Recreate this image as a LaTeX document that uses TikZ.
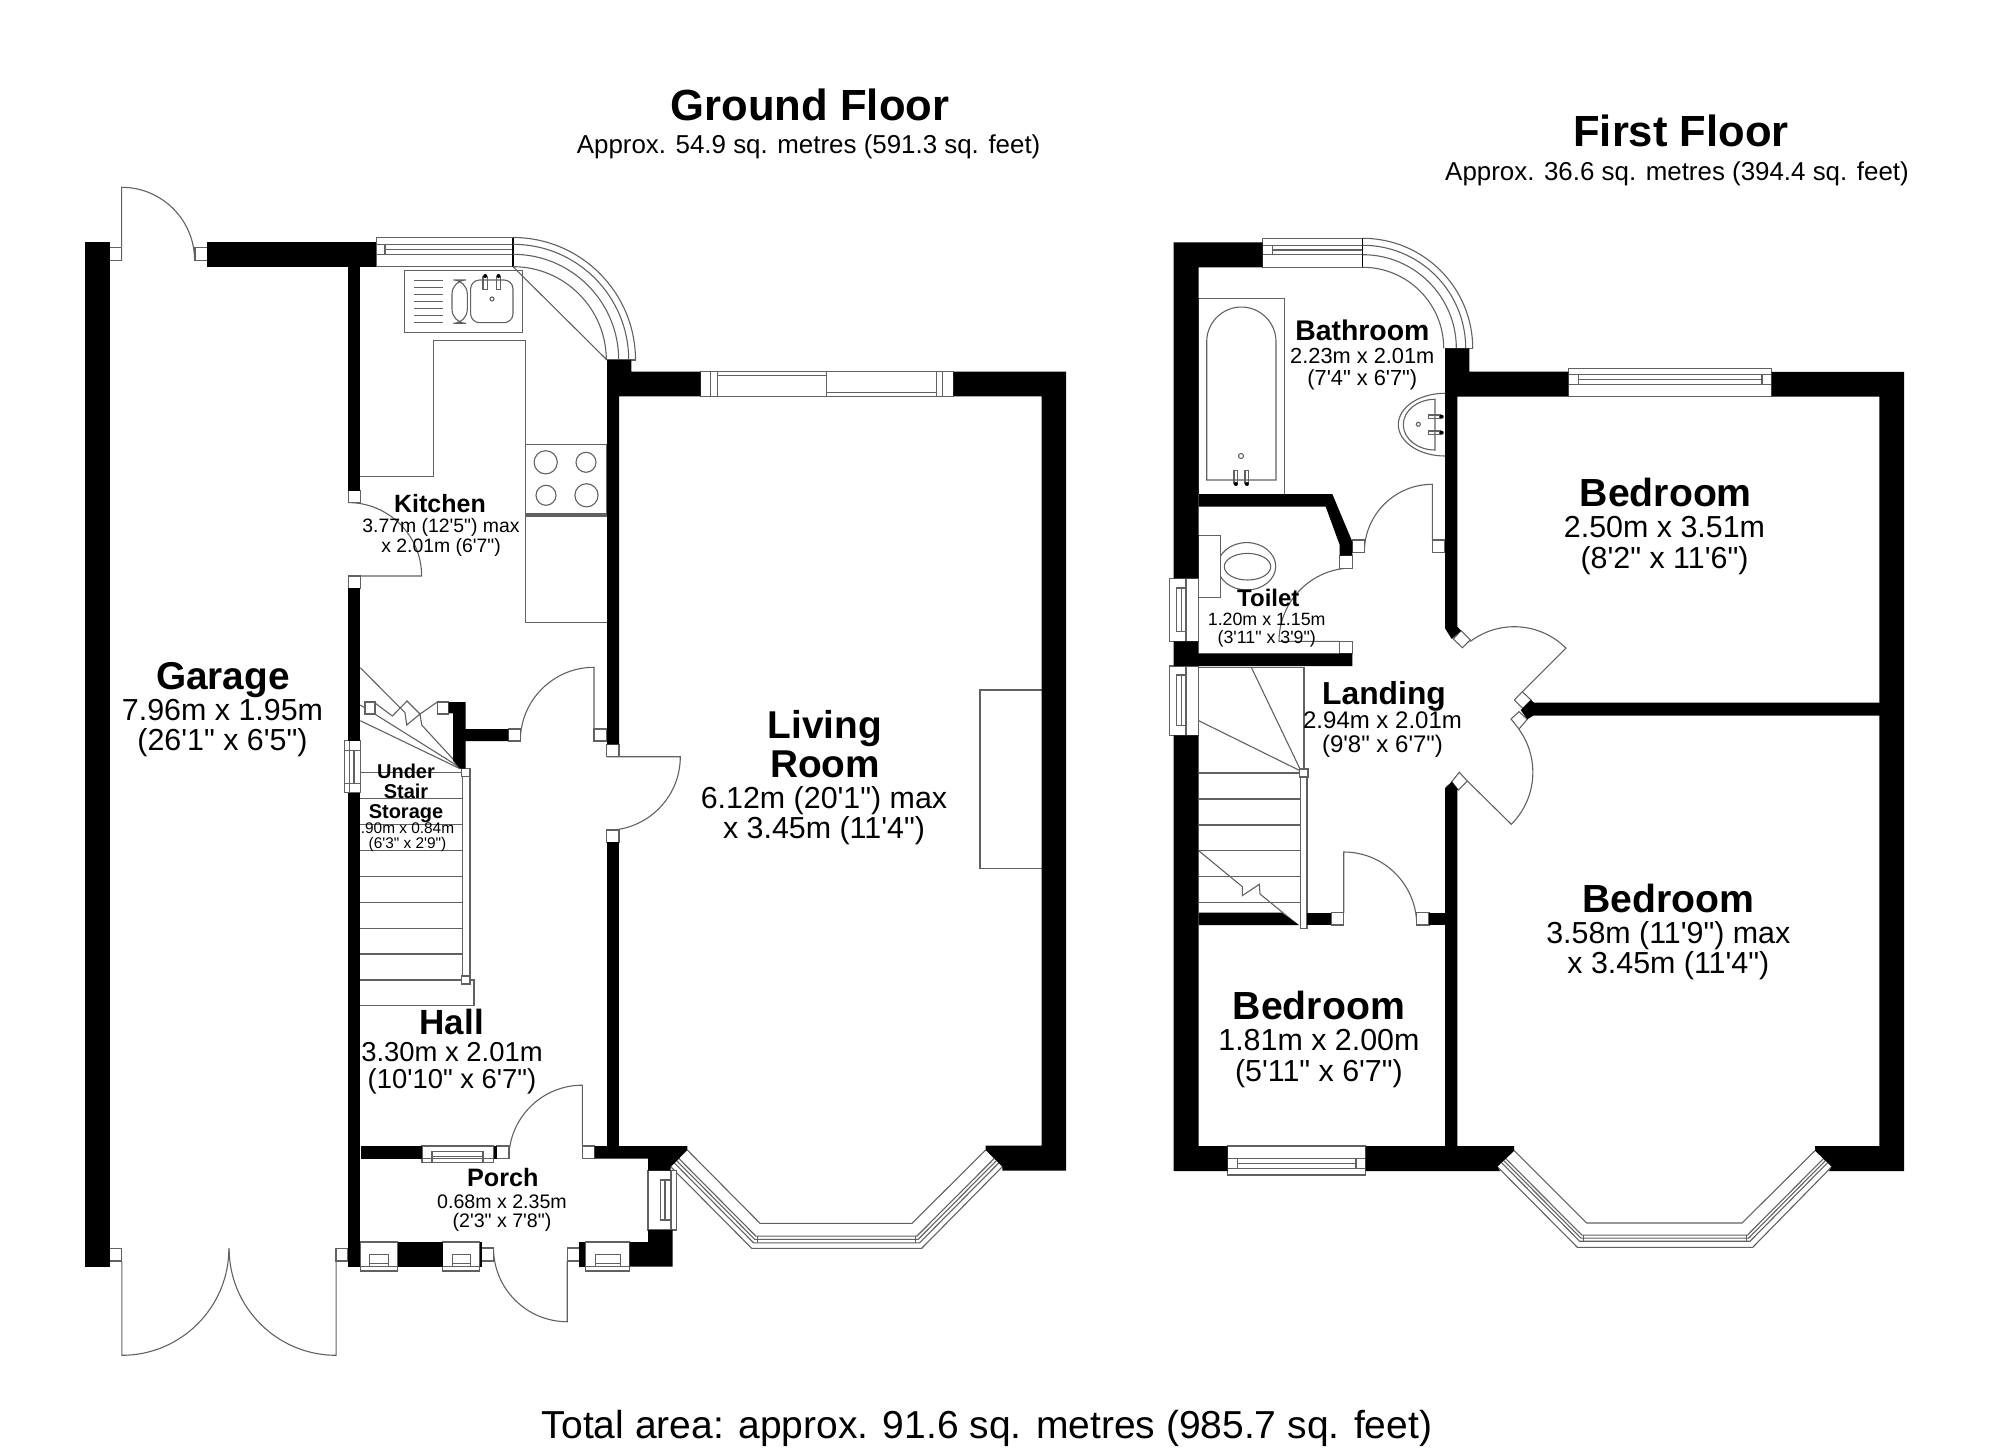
\documentclass[tikz,border=0pt]{standalone}
\usepackage{fontspec}
\newfontfamily\planfont{Liberation Sans}
\tikzset{
	wall/.style = {fill=black, draw=none},
	fine/.style = {draw=black!62, line width=.55pt},
	jamb/.style = {fine, fill=white},
	floortitle/.style = {font=\planfont\fontsize{21.8}{21.8}\selectfont\bfseries},
	roomtitle/.style = {align=center, font=\planfont\fontsize{#1}{#1}\selectfont\bfseries},
	roomdim/.style = {align=center, font=\planfont\fontsize{#1}{#1}\selectfont}
}
\begin{document}
\begin{tikzpicture}[x=.5pt, y=.5pt, yscale=-1, inner sep=0pt]
	\useasboundingbox (0,0) rectangle (2000,1454);

	\draw[fine] (121.6,260.3) -- (121.6,187.3) arc[start angle=-90, end angle=0, radius=73];
	\draw[fine] (348.2,576) -- (421.6,576) arc[start angle=0, end angle=-90, radius=73.4];
	\draw[fine] (594,729) -- (594,667.3) arc[start angle=-90, end angle=-180, radius=73.7];
	\draw[fine] (606.7,756.7) -- (680.3,756.7) arc[start angle=0, end angle=90, radius=73.6];
	\draw[fine] (582.3,1146) -- (582.3,1085.2) arc[start angle=-90, end angle=-180, radius=73.5];
	\draw[fine] (121.9,1261) -- (121.9,1355.3) arc[start angle=90, end angle=0, radius=107];
	\draw[fine] (336.1,1261) -- (336.1,1355.3) arc[start angle=90, end angle=180, radius=107];
	\draw[fine] (567.2,1261) -- (567.2,1321.7) arc[start angle=90, end angle=180, radius=73.7];

	\draw[fine] (360.4,476.7) -- (433.5,476.7) -- (433.5,340.3) -- (525.3,340.3) -- (525.3,622.7) -- (607,622.7);
	\draw[fine] (525.3,444.7) rectangle (607,514) (525.3,516) -- (607,516);
	\foreach \cx/\cy/\rad in {545.7/462.3/11.6, 586/462.3/10, 546/495.3/10, 586.5/495.3/11.6}
		\draw[fine] (\cx,\cy) circle[radius=\rad];
	\draw[fine] (404.5,270.7) rectangle (522.5,332.3);
	\foreach \yy in {280.3,287.3,...,322.3}
		\draw[fine] (414,\yy) -- (443,\yy);
	\draw[fine, rounded corners=7pt] (452,280) rectangle (467.3,323.3);
	\draw[fine, rounded corners=4.5pt] (470.6,280) rectangle (513,322.7);
	\foreach \tapx in {483,496.3} {
		\draw[fine] (\tapx,276.7) rectangle (\tapx+4.5,289.3);
		\fill (\tapx+2.2,276) circle[radius=2];
	}
	\draw[fine] (492,299) circle[radius=2];
	\draw[fine] (513,266.7) -- (607,360);

	\draw[jamb] (376.3,237.7) rectangle (513,266.7);
	\draw[fine] (376.3,244.3) -- (513,244.3) (376.3,254.3) -- (513,254.3) (385,249.3) -- (513,249.3) (385,244.3) -- (385,254.3);
	\draw[draw=black, line width=.7pt] (513,237.7) -- (513,266.7);
	\foreach \rad in {122.5,115.7,105.7,93.3}
		\draw[fine] (513,360-\rad) arc[start angle=-90, end angle=0, radius=\rad];
	\draw[fine] (607,360) -- (635.5,360);

	\draw[jamb] (700.7,371.7) rectangle (953.3,396.4);
	\foreach \xx in {710.7,717.3,826.7,936.7,942.7}
		\draw[fine] (\xx,371.7) -- (\xx,396.4);
	\draw[fine] (717.3,375.7) -- (826.7,375.7) (826.7,392.3) -- (936.7,392.3);
	\draw[fine] (1041.7,690) -- (980,690) -- (980,868.6) -- (1041.7,868.6);

	\foreach \f in {0,.51,.64,.78,1}
		\draw[fine] ({687.3-16.6*\f},{1150+16.7*\f}) -- ({760-8.3*\f},{1223.3+25*\f}) -- ({912+9.7*\f},{1223.3+25*\f}) -- ({985.7+16.6*\f},{1150+16.7*\f});
	\draw[fine] (757.3,1236) -- (757.3,1242.7) (915.3,1236) -- (915.3,1242.7);

	\draw[fine] (360.3,705) -- (462,768.7) (360.3,720.7) -- (460,768.7);
	\draw[fine] (360.3,667.7) -- (405,712.7) -- (406.7,725) -- (420,714) -- (421.7,725) -- (463,770);
	\draw[fine] (375,703) -- (392.3,716) -- (407,701) -- (420,714) -- (437.3,702);
	\foreach \yy in {772.7,798.7,824.3,850.3,876.3,902.3,928.3,954}
		\draw[fine] (360.3,\yy) -- (462.7,\yy);
	\draw[fine] (360.3,980) -- (474,980) -- (474,1005.7) -- (360.3,1005.7);
	\draw[jamb] (462.7,772.7) rectangle (470,980);
	\draw[jamb] (461.7,768.7) rectangle (470,776.7);
	\draw[jamb] (461.7,976) rectangle (470,984);

	\foreach \xa/\ya/\xb/\yb in {109.5/247.7/121.6/260.3, 195/247.7/207.3/260.3, 348.2/490.7/360.4/502.7, 348.2/576/360.4/588.3, 365/702/375/714, 437.3/702/448.7/714, 508.3/729/520.3/741, 594/729/606.7/741, 606.7/744.3/619/756.7, 606.7/830/619/842.3, 496.5/1146/509/1158.7, 582.3/1146/594.5/1158.7, 109.7/1248.3/121.9/1261, 336/1248.3/347.9/1261, 481.7/1248/493.5/1261, 567.2/1248/579.4/1261}
		\draw[jamb] (\xa,\ya) rectangle (\xb,\yb);

	\foreach \xa/\xb/\xc/\xd in {360.5/397.5/369.8/388.3, 442.6/479.6/452.3/470.4, 585.3/629.5/595.3/620.6} {
		\draw[jamb] (\xa,1242) rectangle (\xb,1271);
		\draw[fine] (\xa,1266.7) -- (\xb,1266.7) (\xc,1254.7) rectangle (\xd,1263.7) (\xc,1263.7) -- (\xc,1266.7) (\xd,1263.7) -- (\xd,1266.7);
	}
	\draw[jamb] (422,1146) rectangle (493.5,1162.3);
	\draw[fine] (422,1158.7) -- (493.5,1158.7) (432,1151.7) rectangle (483,1156.7) (432,1156.7) -- (432,1162.3) (483,1156.7) -- (483,1162.3);
	\draw[jamb] (648,1170.7) rectangle (676.7,1230);
	\draw[fine] (671,1170.7) -- (671,1230) (660.3,1180) rectangle (670.3,1220) (665,1180) -- (665,1220);
	\draw[jamb] (344.3,740.7) rectangle (360.3,792.7);
	\draw[fine] (349.3,740.7) -- (349.3,792.7) (344.3,750.7) -- (360.3,750.7) (344.3,783.3) -- (360.3,783.3) (354,750.7) -- (354,783.3);

	\path[wall] (84.5,242) rectangle (109.5,1267);
	\path[wall] (207.3,241.7) rectangle (376.3,266.7);
	\path[wall] (348.2,266.7) rectangle (360.4,490.7);
	\path[wall] (348,588.3) rectangle (360.4,740.7);
	\path[wall] (348,792.7) rectangle (360.4,1266.7);
	\path[wall] (607,360) -- (631.4,360) -- (631.4,371.7) -- (700.7,371.7) -- (700.7,396.5) -- (619.2,396.5) -- (619.2,744.3) -- (607,744.3) -- cycle;
	\path[wall] (953.3,371.7) -- (1066,371.7) -- (1066,1170.7) -- (1002.3,1170.7) -- (1002.3,1166.7) -- (985.7,1150) -- (985.7,1145.7) -- (1041.7,1145.7) -- (1041.7,396.5) -- (953.3,396.5) -- cycle;
	\path[wall] (607,842.3) rectangle (619,1146);
	\path[wall] (448.7,702) -- (465.7,702) -- (465.7,729) -- (508.3,729) -- (508.3,741) -- (465.7,741) -- (465.7,768.7) -- (460,768.7) -- (453,760.7) -- (453,713.3) -- (448.7,713.3) -- cycle;
	\path[wall] (360.5,1146) rectangle (422,1158.7);
	\path[wall] (493.5,1146) rectangle (496.5,1158.7);
	\path[wall] (594.5,1146) -- (687.3,1146) -- (687.3,1150) -- (670.7,1167) -- (670.7,1170.7) -- (648,1170.7) -- (648,1158.7) -- (594.5,1158.7) -- cycle;
	\path[wall] (629.5,1242) -- (648,1242) -- (648,1230) -- (672.7,1230) -- (672.7,1266.7) -- (629.5,1266.7) -- cycle;
	\path[wall] (397.5,1242) rectangle (442.6,1266.7);
	\path[wall] (479.6,1242) rectangle (481.7,1266.7);
	\path[wall] (579.4,1242) rectangle (585.3,1266.7);

	\draw[fine] (1198.7,494) -- (1198.7,298.3) -- (1284.3,298.3) -- (1284.3,494);
	\draw[fine] (1206.7,341.7) arc[start angle=180, end angle=360, radius=34.65] -- (1276,480) -- (1206.7,480) -- cycle;
	\draw[fine] (1241,456) circle[radius=2.5];
	\foreach \tapx in {1234,1245} {
		\draw[fine] (\tapx,470.7) rectangle (\tapx+3.7,483.3);
		\fill (\tapx+1.9,484) circle[radius=2];
	}
	\draw[fine] (1445,393.3) arc[start angle=-90, end angle=-270, x radius=46.7, y radius=31.35];
	\draw[fine] (1435,399.3) arc[start angle=-90, end angle=-270, x radius=31.7, y radius=25.35] -- cycle;
	\draw[fine] (1418.3,424.3) circle[radius=2];
	\foreach \tapy in {415,431} {
		\draw[fine] (1428.7,\tapy) rectangle (1440,\tapy+3.3);
		\fill (1441.7,\tapy+1.7) circle[radius=2];
	}
	\draw[fine] (1246.7,566.3) ellipse[x radius=29, y radius=23.7];
	\draw[fine] (1247.5,566.7) ellipse[x radius=23.2, y radius=13.3];
	\draw[jamb] (1198.7,535.7) rectangle (1220.7,597.3);

	\draw[jamb] (1262.7,238.3) rectangle (1362.7,267.3);
	\draw[fine] (1262.7,245.3) -- (1362.7,245.3) (1262.7,254.7) -- (1362.7,254.7) (1272.3,250) -- (1362.7,250) (1272.3,245.3) -- (1272.3,254.7);
	\draw[draw=black, line width=.7pt] (1362.7,238.3) -- (1362.7,267.3);
	\foreach \rad in {110,103,93.6,81}
		\draw[fine] (1362.7,348.3-\rad) arc[start angle=-90, end angle=0, radius=\rad];
	\draw[fine] (1445,348.3) -- (1473.3,348.3);

	\draw[fine] (1432.3,540) -- (1432.3,484.3) arc[start angle=-90, end angle=-180, radius=68];
	\draw[fine] (1339.7,641.3) -- (1279,641.3) arc[start angle=180, end angle=270, radius=73.3];
	\draw[fine] (1522.3,691.7) -- (1565.9,648.1) arc[start angle=-45, end angle=-127, radius=73];
	\draw[fine] (1467.3,781) -- (1511.3,824.3) arc[start angle=45, end angle=-36, radius=73.5];
	\draw[fine] (1343.7,912.7) -- (1343.7,852) arc[start angle=-90, end angle=0, radius=73];

	\foreach \xa/\ya/\xb/\yb in {1339.7/641.3/1352.3/653.3, 1339.7/555.7/1352.3/568.3, 1352.3/540/1364.7/552.3, 1432.3/540/1445/552.3, 1331.3/912.7/1343.7/925, 1416.7/912.7/1429/925}
		\draw[jamb] (\xa,\ya) rectangle (\xb,\yb);
	\draw[jamb] (1461,630.7) -- (1470.3,640) -- (1462.3,647.7) -- (1453.3,639) -- cycle;
	\draw[jamb] (1514.3,700) -- (1522.3,691.7) -- (1531,700) -- (1522.7,708.3) -- cycle;
	\draw[jamb] (1511,719) -- (1519,711.7) -- (1527.3,719.3) -- (1519,729) -- cycle;
	\draw[jamb] (1451.7,781.7) -- (1459.3,772.3) -- (1467.3,781) -- (1458.3,790) -- cycle;

	\draw[fine] (1251.3,667.3) -- (1300,769) (1198.7,720.7) -- (1300,770.7);
	\draw[fine] (1304,667.3) -- (1304,769) (1198.7,667.3) -- (1304,667.3);
	\foreach \yy in {773,799,825,850.7,876.7,902.7}
		\draw[fine] (1198.7,\yy) -- (1300.3,\yy);
	\draw[fine] (1198.7,850.7) -- (1242.3,886.7) -- (1242.3,895.7) -- (1259.3,884.3) -- (1260,894) -- (1296.7,924);
	\draw[jamb] (1300.3,773) rectangle (1307,928.3);
	\draw[jamb] (1299.7,769) rectangle (1308,777);

	\foreach \ya/\yb/\yc/\yd in {578.3/641.3/588/631.7, 666/735.3/675/725.7} {
		\draw[jamb] (1169.7,\ya) rectangle (1198.7,\yb);
		\draw[fine] (1186,\ya) -- (1186,\yb) (1176.7,\yc) rectangle (1186,\yd) (1181.3,\yc) -- (1181.3,\yd);
	}
	\draw[jamb] (1568.3,368.3) rectangle (1771.7,396.7);
	\draw[fine] (1568.3,374.3) -- (1771.7,374.3) (1568.3,384.3) -- (1771.7,384.3) (1578.3,379.3) -- (1762,379.3) (1578.3,374.3) -- (1578.3,384.3) (1762,374.3) -- (1762,384.3);
	\draw[jamb] (1227.7,1146) rectangle (1365.7,1175);
	\draw[fine] (1227.7,1158.3) -- (1365.7,1158.3) (1227.7,1168.3) -- (1365.7,1168.3) (1237.3,1163.3) -- (1356,1163.3) (1237.3,1158.3) -- (1237.3,1168.3) (1356,1158.3) -- (1356,1168.3);

	\foreach \f in {0,.5,.62,.75,1}
		\draw[fine] ({1514.3-17*\f},{1150.7+16*\f}) -- ({1586.7-9.4*\f},{1223+24.3*\f}) -- ({1742+10.7*\f},{1223+24.3*\f}) -- ({1815+16.7*\f},{1150.7+16*\f});
	\draw[fine] (1583.3,1235.3) -- (1583.3,1241.3) (1746.7,1235.3) -- (1746.7,1241.3);

	\path[wall] (1173.7,242.3) -- (1262.7,242.3) -- (1262.7,267.3) -- (1198.7,267.3) -- (1198.7,578.3) -- (1173.7,578.3) -- cycle;
	\path[wall] (1173.7,641.3) -- (1198.7,641.3) -- (1198.7,653.3) -- (1352.3,653.3) -- (1352.3,666) -- (1173.7,666) -- cycle;
	\path[wall] (1198.7,494) -- (1332.3,494) -- (1352.3,541.7) -- (1352.3,555.7) -- (1339.7,555.7) -- (1339.7,545) -- (1325.7,506.7) -- (1198.7,506.7) -- cycle;
	\path[wall] (1173.7,735.3) -- (1198.7,735.3) -- (1198.7,1146) -- (1227.7,1146) -- (1227.7,1171) -- (1173.7,1171) -- cycle;
	\path[wall] (1198.7,912.7) -- (1281.7,912.7) -- (1299,925) -- (1198.7,925) -- cycle;
	\path[wall] (1307,912.7) rectangle (1331.3,925);
	\path[wall] (1429,912.7) rectangle (1445,925);
	\path[wall] (1445,788) -- (1451.7,781.7) -- (1458.3,790) -- (1457.3,789) -- (1457.3,1146) -- (1514,1146) -- (1514.3,1150.7) -- (1497.3,1166.7) -- (1500,1171) -- (1365.7,1171) -- (1365.7,1146) -- (1445,1146) -- cycle;
	\path[wall] (1445,348.3) -- (1469.3,348.3) -- (1469.3,371.7) -- (1568.3,371.7) -- (1568.3,396.7) -- (1457.3,396.7) -- (1457.3,626.7) -- (1461,630.7) -- (1451.7,639) -- (1445,628.3) -- cycle;
	\path[wall] (1771.7,372) -- (1904,372) -- (1904,1171) -- (1829,1171) -- (1831.7,1166.7) -- (1815,1150.7) -- (1815,1146) -- (1879.3,1146) -- (1879.3,396.7) -- (1771.7,396.7) -- cycle;
	\path[wall] (1520.7,710) -- (1531,700) -- (1534,702.7) -- (1885,702.7) -- (1885,715.7) -- (1533.3,715.7) -- (1527.3,719.3) -- cycle;

	\node[floortitle] (groundfloor) at (810,104.6) {Ground Floor};
	\node[roomdim=12.95] (groundarea) at (808.6,147) {Approx. 54.9 sq. metres (591.3 sq. feet)};
	\node[floortitle] (firstfloor) at (1681,131) {First Floor};
	\node[roomdim=12.95] (firstarea) at (1677,174) {Approx. 36.6 sq. metres (394.4 sq. feet)};
	\node[roomdim=19.5] (totalarea) at (987,1428.5) {Total area: approx. 91.6 sq. metres (985.7 sq. feet)};

	\node[roomtitle=19.4] (garage) at (223,680) {Garage};
	\node[roomdim=15.2] (garagedim) at (222.5,728) {7.96m x 1.95m\\(26'1" x 6'5")};
	\node[roomtitle=19.4] (living) at (825,744) {Living\\Room};
	\node[roomdim=15.2] (livingdim) at (824,815.5) {6.12m (20'1") max\\x 3.45m (11'4")};
	\node[roomtitle=12.5] (kitchen) at (440,504) {Kitchen};
	\node[roomdim=9.7] (kitchendim) at (441,537.5) {3.77m (12'5") max\\x 2.01m (6'7")};
	\node[roomtitle=10] (understair) at (406,793.7) {Under\\Stair\\Storage};
	\node[roomdim=7.7] (understairdim) at (407.5,837) {.90m x 0.84m\\(6'3" x 2'9")};
	\node[roomtitle=17.5] (hall) at (451.7,1022) {Hall};
	\node[roomdim=13.7] (halldim) at (452,1068.5) {3.30m x 2.01m\\(10'10" x 6'7")};
	\node[roomtitle=12.6] (porch) at (502.8,1177.3) {Porch};
	\node[roomdim=9.8] (porchdim) at (502,1213) {0.68m x 2.35m\\(2'3" x 7'8")};

	\node[roomtitle=14.2] (bathroom) at (1362.3,330) {Bathroom};
	\node[roomdim=10.9] (bathroomdim) at (1362.3,369.5) {2.23m x 2.01m\\(7'4" x 6'7")};
	\node[roomtitle=12] (toilet) at (1268.3,598.3) {Toilet};
	\node[roomdim=8.9] (toiletdim) at (1266.7,630) {1.20m x 1.15m\\(3'11" x 3'9")};
	\node[roomtitle=15.9] (landing) at (1384,696.5) {Landing};
	\node[roomdim=12] (landingdim) at (1382.5,734.7) {2.94m x 2.01m\\(9'8" x 6'7")};
	\node[roomtitle=19.6] (bedroomtop) at (1665.8,492.3) {Bedroom};
	\node[roomdim=15.2] (bedroomtopdim) at (1664.5,545.7) {2.50m x 3.51m\\(8'2" x 11'6")};
	\node[roomtitle=19.6] (bedroomfront) at (1668.3,898) {Bedroom};
	\node[roomdim=15.2] (bedroomfrontdim) at (1668.3,950.7) {3.58m (11'9") max\\x 3.45m (11'4")};
	\node[roomtitle=19.6] (bedroomsmall) at (1318.9,1005) {Bedroom};
	\node[roomdim=15.2] (bedroomsmalldim) at (1318.9,1058.5) {1.81m x 2.00m\\(5'11" x 6'7")};
\end{tikzpicture}
\end{document}
